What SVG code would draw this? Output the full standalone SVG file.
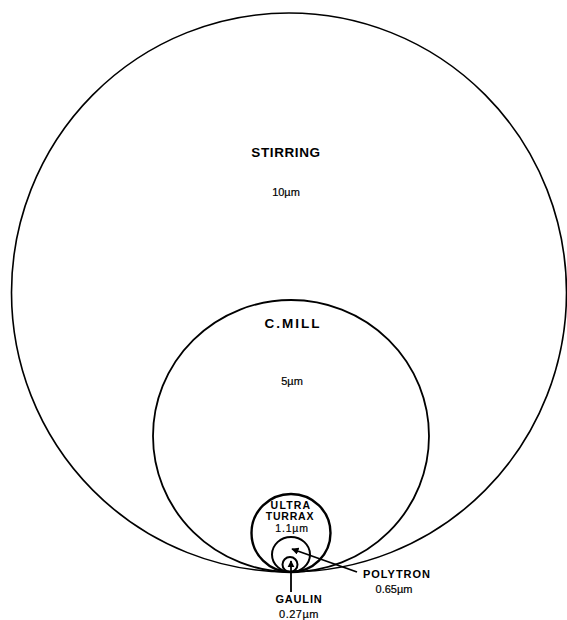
<svg xmlns="http://www.w3.org/2000/svg" width="567" height="620" viewBox="0 0 567 620">
<style>
.c{fill:none;stroke:#000}
.t{font-family:"Liberation Sans",Arial,sans-serif;fill:#000;text-anchor:middle}
.b{font-weight:bold}
.a{stroke:#000;stroke-width:1.8;fill:none}
</style>
<defs>
<marker id="ah" viewBox="0 0 10 10" refX="9" refY="5" markerWidth="4" markerHeight="4" orient="auto" markerUnits="strokeWidth">
<path d="M0,0 L10,5 L0,10 z" fill="#000"/>
</marker>
</defs>
<rect width="567" height="620" fill="#fff"/>
<g id="stirring">
<ellipse class="c" cx="289" cy="292.5" rx="277.5" ry="279.5" stroke-width="1.6"/>
<text class="t b" x="286" y="157" font-size="13.5" letter-spacing="0.6">STIRRING</text>
<text class="t" x="286" y="196" font-size="11" stroke="#000" stroke-width="0.2">10µm</text>
</g>
<g id="cmill">
<ellipse class="c" cx="291" cy="436" rx="138" ry="136" stroke-width="1.8"/>
<text class="t b" x="293" y="328" font-size="13.5" letter-spacing="2">C.MILL</text>
<text class="t" x="292" y="385" font-size="11" stroke="#000" stroke-width="0.2">5µm</text>
</g>
<g id="ultraturrax">
<ellipse class="c" cx="291" cy="533" rx="39.5" ry="39" stroke-width="2.4"/>
<text class="t b" x="291" y="508.5" font-size="10.5" letter-spacing="1.2">ULTRA</text>
<text class="t b" x="290" y="520" font-size="10.5" letter-spacing="0.8">TURRAX</text>
<text class="t" x="292" y="531.5" font-size="10.5" letter-spacing="0.8" stroke="#000" stroke-width="0.2">1.1µm</text>
</g>
<g id="polytron">
<ellipse class="c" cx="291" cy="554.5" rx="19" ry="17.5" stroke-width="2"/>
<text class="t" x="397" y="578" font-size="11" font-weight="bold" letter-spacing="1">POLYTRON</text>
<text class="t" x="394" y="593" font-size="11" stroke="#000" stroke-width="0.2">0.65µm</text>
</g>
<g id="gaulin">
<ellipse class="c" cx="290" cy="564.5" rx="7.5" ry="7.5" stroke-width="2"/>
<text class="t" x="299" y="603" font-size="11" font-weight="bold" letter-spacing="0.8">GAULIN</text>
<text class="t" x="299" y="618" font-size="11" letter-spacing="0.5" stroke="#000" stroke-width="0.2">0.27µm</text>
</g>
<g id="connectors">
<line class="a" x1="291" y1="592" x2="291" y2="561" marker-end="url(#ah)"/>
<line class="a" x1="357" y1="572" x2="292" y2="549" marker-end="url(#ah)"/>
</g>
</svg>
